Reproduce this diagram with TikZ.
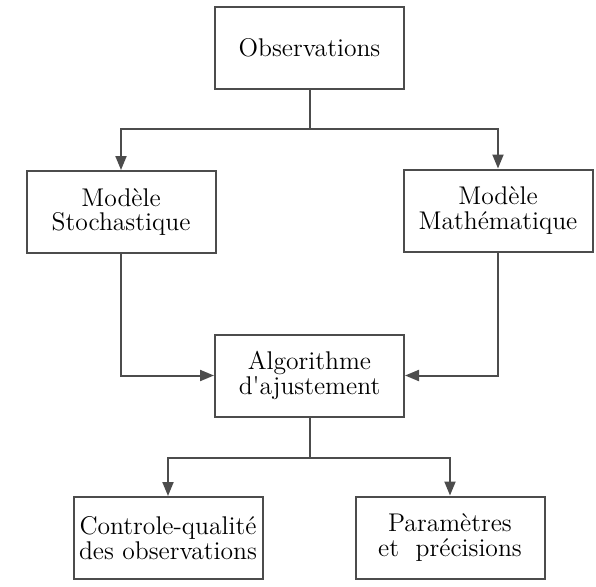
\documentclass[tikz,border=0pt]{standalone}
\usepackage{tikz}
\usetikzlibrary{arrows.meta, positioning, calc}
\tikzset{
  box/.style={rectangle, draw=black!70, line width=1pt, align=center,
              minimum width=94.5pt, minimum height=41pt, inner sep=2pt,
              font=\fontsize{12.8}{12.2}\selectfont, fill=white},
  link/.style={draw=black!70, line width=1pt},
  arrow/.style={link, -{Triangle[length=7pt, width=5.5pt]}},
}
\begin{document}
\begin{tikzpicture}[x=0.5pt, y=0.5pt]

\useasboundingbox (0,0) rectangle (596,-586);

% ── boîtes ────────────────────────────────────────────────────────────────────
\node[box] (obs) at (309.5,-47.5) {Observations};
\node[box] (sto) at (121,-212)    {Modèle\\Stochastique};
\node[box] (mat) at (498,-210.5)  {Modèle\\Mathématique};
\node[box] (alg) at (309.5,-375.5){Algorithme\\d\textquotesingle ajustement};
\node[box] (ctl) at (168,-538)    {Controle-qualité\\des observations};
\node[box] (par) at (450,-537.5)  {Paramètres\\et~~précisions};

% ── liaisons ──────────────────────────────────────────────────────────────────
\draw[link] (obs.south) -- ++(0,-39) coordinate (splitA);
\draw[arrow] (splitA) -| (sto.north);
\draw[arrow] (splitA) -| (mat.north);

\draw[arrow] (sto.south) |- (alg.west);
\draw[arrow] (mat.south) |- (alg.east);

\draw[link] (alg.south) -- ++(0,-40) coordinate (splitB);
\draw[arrow] (splitB) -| (ctl.north);
\draw[arrow] (splitB) -| (par.north);

\end{tikzpicture}
\end{document}
